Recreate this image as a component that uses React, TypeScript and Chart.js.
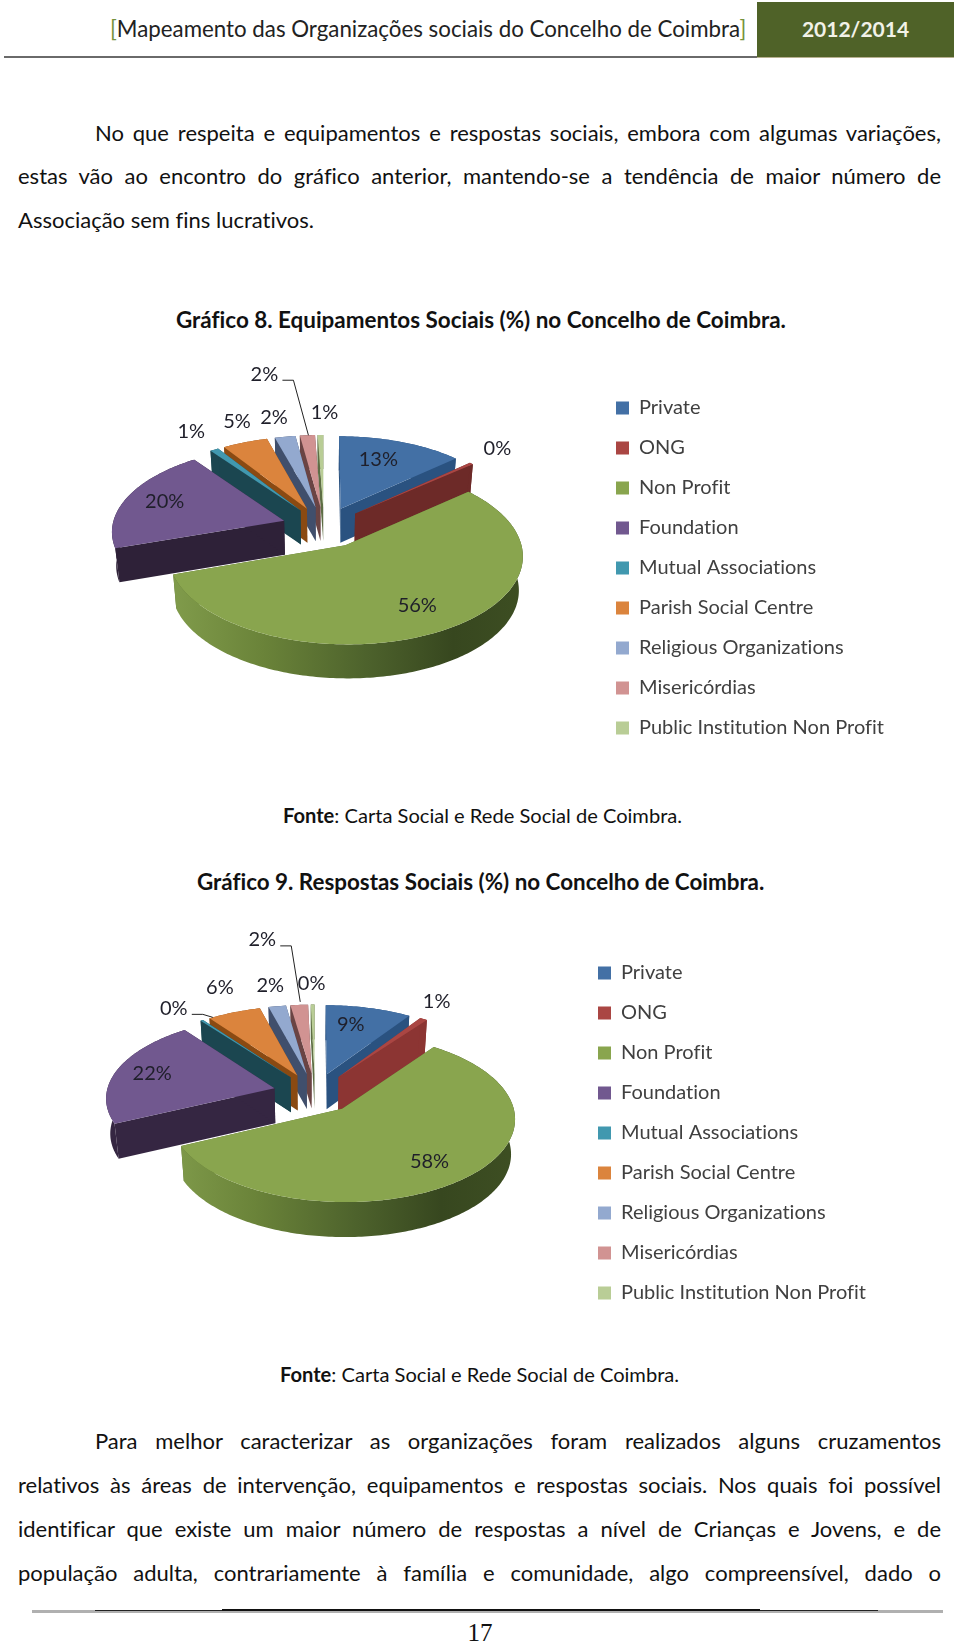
import React, { useEffect, useRef } from "react";
import { Chart, registerables } from "chart.js";

Chart.register(...registerables);

const categories = ["Private", "ONG", "Non Profit", "Foundation", "Mutual Associations", "Parish Social Centre", "Religious Organizations", "Misericórdias", "Public Institution Non Profit"];
const equipamentos = [13.3, 0.4, 56.1, 20.1, 0.9, 4.8, 2.2, 1.6, 0.6];
const respostas = [9.3, 0.8, 57.8, 21.7, 0.3, 5.8, 1.9, 1.9, 0.4];
const topColors = ["#4370a5", "#aa4643", "#89a54e", "#71588f", "#4198af", "#db843d", "#93a9cf", "#d19392", "#b9cd96"];
const wallColors1 = ["#2a5280", "#6d2a28", "#5a7030", "#2e2138", "#1b4650", "#8a4a12", "#404f6c", "#6a4444", "#5e6e45"];
const wallColors2 = ["#2a5280", "#8c3533", "#5a7030", "#352642", "#1b4650", "#8a4a12", "#404f6c", "#6a4444", "#5e6e45"];

const drawOrder = [8, 7, 6, 5, 4, 0, 1, 2, 3];
const labelNudge1 = [[-23, 18], [26, -15], [-27, -24], [37, 5], [-23, -18], [-8, -21], [-11, -19], [-43, -61], [4, -22]];
const labelNudge2 = [[-18, 17], [13, -17], [-34, -17], [35, 4], [-28, -12], [-14, -25], [-7, -21], [-37, -65], [-1, -21]];

const FONT = "Lato, 'Open Sans', sans-serif";

const pie3d = {
  id: "pie3d",
  beforeDraw(chart: any) {
    chart.ctx.textRendering = "optimizeSpeed";
  },
  afterLayout(chart: any, _a: any, o: any) {
    const l = chart.legend;
    if (!l) return;
    const w = l.right - l.left;
    const h = l.bottom - l.top;
    l.left = o.legendX;
    l.right = o.legendX + w;
    l.top = o.legendY;
    l.bottom = o.legendY + h;
  },
  beforeDatasetDraw(chart: any, _a: any, o: any) {
    const ctx = chart.ctx;
    const arcs = chart.getDatasetMeta(0).data;
    const values = chart.data.datasets[0].data;
    const { X, Y, Rx, Ry, k, e, depth, walls, nudges, leaders } = o;
    const P = (u: number, v: number) => {
      const w = 1 + k * v;
      return [X + (Rx * u) / w, Y - (Ry * v) / w];
    };
    const info = arcs.map((arc: any) => {
      const s = arc.startAngle + Math.PI / 2;
      const t = arc.endAngle + Math.PI / 2;
      const m = (s + t) / 2;
      return { s, t, m, au: e * Math.sin(m), av: e * Math.cos(m) };
    });
    const pt = (i: number, th: number, r = 1) => P(info[i].au + r * Math.sin(th), info[i].av + r * Math.cos(th));
    ctx.save();
    drawOrder.forEach((i) => {
      const { s, t } = info[i];
      const top = topColors[i];
      const wall = walls[i];
      const apex = pt(i, 0, 0);
      const n = Math.max(2, Math.ceil((t - s) / (Math.PI / 180)));
      const rim: number[][] = [];
      for (let j = 0; j <= n; j++) rim.push(pt(i, s + ((t - s) * j) / n));
      const fillPoly = (pts: number[][], fill: any) => {
        ctx.beginPath();
        pts.forEach((p, idx) => (idx ? ctx.lineTo(p[0], p[1]) : ctx.moveTo(p[0], p[1])));
        ctx.closePath();
        ctx.fillStyle = fill;
        ctx.fill();
      };
      const down = (p: number[]) => [X + (p[0] - X) * 0.98, p[1] + depth];
      fillPoly([apex, rim[0], down(rim[0]), down(apex)], wall);
      fillPoly([apex, rim[n], down(rim[n]), down(apex)], wall);
      let rimFill: any = wall;
      if (i === 2) {
        const g = ctx.createLinearGradient(X - Rx * 0.85, 0, X + Rx * 1.15, 0);
        g.addColorStop(0, "#7f9a4a");
        g.addColorStop(0.25, "#6a8339");
        g.addColorStop(0.55, "#4d622c");
        g.addColorStop(0.8, "#37471f");
        g.addColorStop(1, "#3d4e22");
        rimFill = g;
      }
      fillPoly([...rim, ...rim.slice().reverse().map(down)], rimFill);
      fillPoly([apex, ...rim], top);
    });
    ctx.font = `20px ${FONT}`;
    ctx.textAlign = "center";
    ctx.textBaseline = "middle";
    ctx.fillStyle = "#1f1f2a";
    ctx.strokeStyle = "#222";
    ctx.lineWidth = 1;
    arcs.forEach((_: any, i: number) => {
      const rp = pt(i, info[i].m, 1);
      const lx = rp[0] + nudges[i][0];
      const ly = rp[1] + nudges[i][1];
      ctx.fillText(`${Math.round(values[i])}%`, lx, ly);
      const lead = leaders[i];
      if (lead) {
        ctx.beginPath();
        ctx.moveTo(lx + 18, ly + 6);
        ctx.lineTo(lx + 29, ly + 6);
        ctx.lineTo(rp[0] + lead[0], rp[1] + lead[1]);
        ctx.stroke();
      }
    });
    ctx.restore();
    return false;
  },
};

function PieChart(props: { values: number[]; top: number; height: number; geom: any; legendX: number; legendY: number }) {
  const ref = useRef<HTMLCanvasElement | null>(null);
  useEffect(() => {
    const chart = new Chart(ref.current as HTMLCanvasElement, {
      type: "pie",
      data: {
        labels: categories,
        datasets: [{ data: props.values, backgroundColor: topColors, borderWidth: 0 }],
      },
      plugins: [pie3d as any],
      options: {
        animation: false,
        responsive: false,
        plugins: {
          tooltip: { enabled: false },
          legend: {
            display: true,
            position: "right",
            align: "start",
            labels: {
              boxWidth: 13,
              boxHeight: 13,
              padding: 20,
              color: "#404040",
              font: { family: FONT, size: 20 },
            },
          },
          pie3d: { ...props.geom, legendX: props.legendX, legendY: props.legendY },
        } as any,
      },
    });
    return () => chart.destroy();
  }, []);
  return <canvas ref={ref} width={960} height={props.height} style={{ position: "absolute", left: 0, top: props.top, width: 960, height: props.height }} />;
}

const bodyStyle: React.CSSProperties = { position: "absolute", fontFamily: FONT, fontSize: 22, lineHeight: "30px", color: "#111", whiteSpace: "normal", fontVariantLigatures: "none" };

function Line(p: { y: number; x: number; w: number; j?: boolean; children: React.ReactNode; style?: React.CSSProperties }) {
  return (
    <div style={{ ...bodyStyle, top: p.y - 15, left: p.x, width: p.w, textAlign: p.j ? "justify" : "left", textAlignLast: p.j ? "justify" : "left", ...p.style } as React.CSSProperties}>
      {p.children}
    </div>
  );
}

export default function App() {
  useEffect(() => {
    document.body.style.margin = "0";
  }, []);
  return (
    <div style={{ position: "absolute", left: 0, top: 0, width: 960, height: 1644, overflow: "hidden", background: "#fff" }}>
      <div style={{ position: "absolute", left: 4, top: 56, width: 753, height: 2, background: "#6a6a6a" }} />
      <div style={{ position: "absolute", left: 757, top: 2, width: 197, height: 55, background: "#4f6228", borderBottom: "1px solid #b7b08f" }} />
      <Line y={29} x={110} w={640} style={{ fontSize: 22.3, whiteSpace: "nowrap", color: "#222" }}>
        <span style={{ color: "#76923c" }}>[</span>Mapeamento das Organizações sociais do Concelho de Coimbra<span style={{ color: "#76923c" }}>]</span>
      </Line>
      <Line y={29} x={757} w={197} style={{ fontSize: 21, fontWeight: 700, color: "#f2f2e8", textAlign: "center", textAlignLast: "center" }}>2012/2014</Line>

      <Line y={133} x={95} w={846} j>No que respeita e equipamentos e respostas sociais, embora com algumas variações,</Line>
      <Line y={176} x={18} w={923} j>estas vão ao encontro do gráfico anterior, mantendo-se a tendência de maior número de</Line>
      <Line y={220} x={18} w={923}>Associação sem fins lucrativos.</Line>

      <Line y={320} x={176} w={640} style={{ fontWeight: 700, whiteSpace: "nowrap", fontSize: 22.45 }}>Gráfico 8. Equipamentos Sociais (%) no Concelho de Coimbra.</Line>
      <PieChart values={equipamentos} top={340} height={420} legendX={596} legendY={38}
        geom={{ X: 324, Y: 527 - 340, Rx: 172, Ry: 84, k: 0.109, e: 0.245, depth: 34, walls: wallColors1, nudges: labelNudge1, leaders: [null, null, null, null, null, null, null, [1, 0], null] }} />
      <Line y={815} x={283} w={420} style={{ whiteSpace: "nowrap", fontSize: 20.1 }}><b>Fonte</b>: Carta Social e Rede Social de Coimbra.</Line>

      <Line y={882} x={197} w={600} style={{ fontWeight: 700, whiteSpace: "nowrap", fontSize: 22.4 }}>Gráfico 9. Respostas Sociais (%) no Concelho de Coimbra.</Line>
      <PieChart values={respostas} top={900} height={420} legendX={578} legendY={43}
        geom={{ X: 315, Y: 1093 - 900, Rx: 168, Ry: 80, k: 0.105, e: 0.25, depth: 35, walls: wallColors2, nudges: labelNudge2, leaders: [null, null, null, null, [11, -3], null, null, [1, -3], null] }} />
      <Line y={1374} x={280} w={420} style={{ whiteSpace: "nowrap", fontSize: 20.1 }}><b>Fonte</b>: Carta Social e Rede Social de Coimbra.</Line>

      <Line y={1441} x={95} w={846} j>Para melhor caracterizar as organizações foram realizados alguns cruzamentos</Line>
      <Line y={1485} x={18} w={923} j>relativos às áreas de intervenção, equipamentos e respostas sociais. Nos quais foi possível</Line>
      <Line y={1529} x={18} w={923} j>identificar que existe um maior número de respostas a nível de Crianças e Jovens, e de</Line>
      <Line y={1573} x={18} w={923} j>população adulta, contrariamente à família e comunidade, algo compreensível, dado o</Line>

      <div style={{ position: "absolute", left: 32, top: 1610, width: 911, height: 3, background: "#b0b0b0" }} />
      <div style={{ position: "absolute", left: 95, top: 1610, width: 783, height: 1, background: "#222" }} />
      <div style={{ position: "absolute", left: 222, top: 1609, width: 538, height: 2, background: "#111" }} />
      <div style={{ position: "absolute", left: 0, top: 1618, width: 960, textAlign: "center", fontFamily: "'Liberation Serif', serif", fontSize: 25, lineHeight: "30px", color: "#111" }}>17</div>
    </div>
  );
}
